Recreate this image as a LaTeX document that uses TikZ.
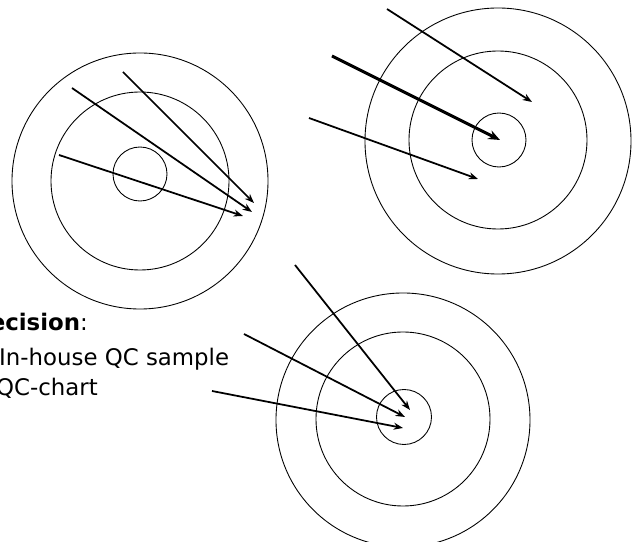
\documentclass[tikz,border=0pt]{standalone}
\usepackage{fontspec}
\setmainfont{DejaVu Sans}
\usetikzlibrary{arrows.meta}
\begin{document}
\begin{tikzpicture}[x=0.03cm,y=-0.03cm,
  ring/.style={draw, circle, line width=0.75pt, inner sep=0pt, outer sep=0pt},
  shot/.style={line width=1.5pt, -{Stealth[length=8pt,width=6pt]}},
  bigshot/.style={line width=2.6pt, -{Stealth[length=10pt,width=8pt]}},
  lbl/.style={inner sep=0pt, font=\fontsize{19.5}{23}\selectfont}]
\useasboundingbox (0,0) rectangle (632,542);
\clip (0,0) rectangle (632,542);
% target 1 (top left)
\node[ring, minimum size=7.68cm] (t1o) at (140,181) {};
\node[ring, minimum size=5.34cm] (t1m) at (140,181) {};
\node[ring, minimum size=1.62cm] (t1i) at (140,174) {};
\coordinate (a1s) at (123,72);  \coordinate (a1e) at (254,203);
\coordinate (a2s) at (72,88);   \coordinate (a2e) at (252,212);
\coordinate (a3s) at (59,155);  \coordinate (a3e) at (243,216);
\draw[shot] (a1s) -- (a1e);
\draw[shot] (a2s) -- (a2e);
\draw[shot] (a3s) -- (a3e);
% target 2 (top right)
\node[ring, minimum size=7.98cm] (t2o) at (498,141) {};
\node[ring, minimum size=5.34cm] (t2m) at (498,140) {};
\node[ring, minimum size=1.62cm] (t2i) at (499,140) {};
\coordinate (b1s) at (387,9);   \coordinate (b1e) at (532,102);
\coordinate (b2s) at (332,56);  \coordinate (b2e) at (500,140);
\coordinate (b3s) at (309,118); \coordinate (b3e) at (478,179);
\draw[shot] (b1s) -- (b1e);
\draw[bigshot] (b2s) -- (b2e);
\draw[shot] (b3s) -- (b3e);
% target 3 (bottom)
\node[ring, minimum size=7.62cm] (t3o) at (403,420) {};
\node[ring, minimum size=5.22cm] (t3m) at (403,419) {};
\node[ring, minimum size=1.65cm] (t3i) at (404,417) {};
\coordinate (c1s) at (295,265); \coordinate (c1e) at (410,410);
\coordinate (c2s) at (244,334); \coordinate (c2e) at (405,417);
\coordinate (c3s) at (212,391); \coordinate (c3e) at (403,428);
\draw[shot] (c1s) -- (c1e);
\draw[shot] (c2s) -- (c2e);
\draw[shot] (c3s) -- (c3e);
% text
\node[lbl, anchor=base east] (prec) at (88,331) {\textbf{Precision}:};
\node[lbl, anchor=base west] (qc1) at (-1,366) {In-house QC sample};
\node[lbl, anchor=base west] (qc2) at (-4,396) {QC-chart};
\end{tikzpicture}
\end{document}
